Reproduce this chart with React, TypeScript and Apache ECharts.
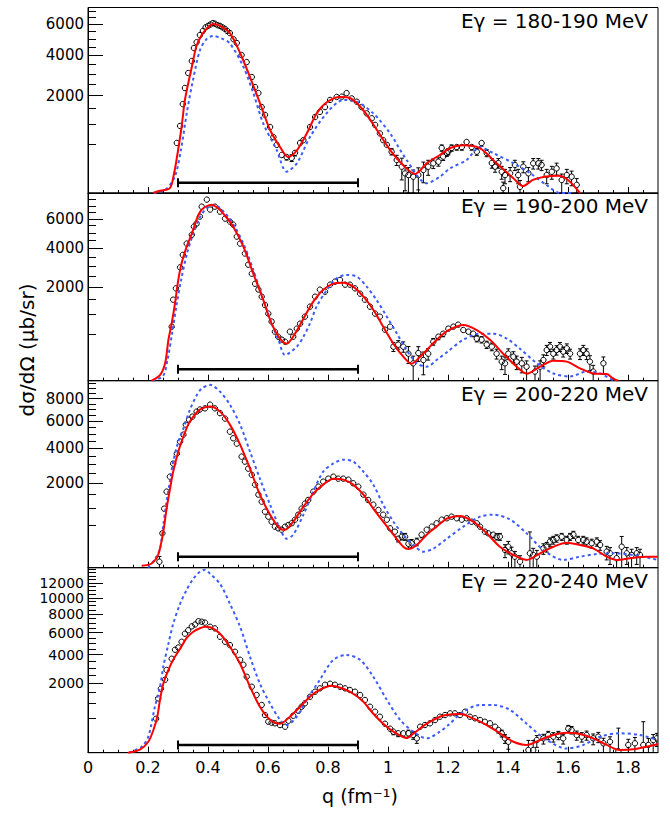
import React, { useEffect, useRef } from "react";
import * as echarts from "echarts";

type Pt = [number, number];
type DPt = [number, number, number];

const FONT = '"DejaVu Sans", "Liberation Sans", sans-serif';

const panelTitles = ["Eγ = 180-190 MeV", "Eγ = 190-200 MeV", "Eγ = 200-220 MeV", "Eγ = 220-240 MeV"];
const yMaxValues = [7270, 8060, 9780, 14260];
const yLabelValues = [
  [2000, 4000, 6000],
  [2000, 4000, 6000],
  [2000, 4000, 6000, 8000],
  [2000, 4000, 6000, 8000, 10000, 12000],
];
const yLabelFontSizes = [15, 15, 15, 14];
const yMinorStep = 500;
const xLabelValues = [0, 0.2, 0.4, 0.6, 0.8, 1, 1.2, 1.4, 1.6, 1.8];
const xMinorStep = 0.05;
const qMax = 1.9;
const barQ = [0.3, 0.9];
const barLevels = [22, 30, 34, 25];

// ---------- Panel 1 (180-190 MeV) ----------
const data1: DPt[] = [
  [0.296,530,40],[0.307,950,50],[0.316,1670,60],[0.323,2330,70],[0.334,3040,80],[0.346,3680,90],[0.353,4440,100],[0.362,4800,110],[0.373,5270,120],[0.383,5550,130],[0.392,5800,140],[0.400,5900,140],[0.408,6000,150],[0.416,6100,150],[0.424,6050,150],[0.432,5950,150],[0.440,5900,150],[0.448,5800,150],[0.456,5700,140],[0.464,5550,140],[0.473,5400,140],[0.485,5000,130],[0.496,4750,130],[0.512,4020,120],[0.529,3620,110],[0.546,2840,100],[0.557,2370,90],[0.568,2110,90],[0.579,1560,80],[0.590,1290,70],[0.607,920,60],[0.618,660,55],[0.629,490,50],[0.646,305,45],[0.662,274,45],[0.679,260,50],[0.690,340,50],[0.707,530,50],[0.718,590,55],[0.740,920,60],[0.757,1220,65],[0.773,1390,65],[0.790,1560,70],[0.807,1830,70],[0.829,1950,75],[0.846,1960,75],[0.862,2110,75],[0.879,1890,75],[0.896,1760,70],[0.912,1560,70],[0.929,1340,65],[0.946,1180,60],[0.957,980,60],[0.973,750,55],[0.984,590,50],[0.996,490,50],[1.012,360,55],[1.029,230,70],[1.046,146,110],[1.057,81,80],[1.068,68,68],[1.084,56,56],[1.101,68,66],[1.118,112,90],[1.134,146,80],[1.151,186,60],[1.168,207,55],[1.179,428,60],[1.184,279,55],[1.196,338,55],[1.201,360,55],[1.212,428,60],[1.229,447,60],[1.246,447,60],[1.262,550,65],[1.279,447,60],[1.296,360,60],[1.312,528,65],[1.329,338,60],[1.346,190,60],[1.357,146,55],[1.368,190,60],[1.379,95,55],[1.384,5,20],[1.39,68,50],[1.407,82,55],[1.423,166,60],[1.434,68,50],[1.44,8,25],[1.451,146,60],[1.468,82,55],[1.484,186,65],[1.501,186,65],[1.512,166,60],[1.529,68,50],[1.546,95,55],[1.562,128,60],[1.579,36,40],[1.596,68,50],[1.612,56,45],[1.629,14,30],
];
const red1: Pt[] = [
  [0.217,0],[0.24,1],[0.273,5],[0.285,60],[0.295,230],[0.312,920],[0.323,1827],[0.346,3355],[0.362,4600],[0.38,5300],[0.4,5800],[0.417,6035],[0.44,5900],[0.473,5405],[0.507,4140],[0.54,2842],[0.573,1711],[0.607,838],[0.64,447],[0.667,274],[0.697,390],[0.73,760],[0.763,1352],[0.797,1749],[0.84,1946],[0.873,1906],[0.917,1455],[0.963,838],[1.007,390],[1.05,166],[1.09,76],[1.13,190],[1.173,305],[1.207,428],[1.25,480],[1.307,422],[1.362,186],[1.417,48],[1.45,10],[1.483,36],[1.522,56],[1.567,63],[1.6,36],[1.64,0],
];
const blue1: Pt[] = [
  [0.22,0],[0.26,3],[0.29,60],[0.31,400],[0.33,1400],[0.35,2700],[0.373,4300],[0.395,5000],[0.418,5206],[0.445,5050],[0.473,4730],[0.518,3363],[0.551,2112],[0.584,1025],[0.629,390],[0.662,96],[0.696,186],[0.74,662],[0.796,1352],[0.851,1827],[0.896,1761],[0.951,1340],[1.007,752],[1.062,230],[1.129,20],[1.173,56],[1.207,129],[1.262,230],[1.307,447],[1.35,338],[1.417,190],[1.473,84],[1.529,13],[1.573,0],[1.62,0],
];

// ---------- Panel 2 (190-200 MeV) ----------
const data2: DPt[] = [
  [0.279,668,50],[0.284,1500,60],[0.293,1950,70],[0.307,2940,80],[0.316,3620,90],[0.329,4300,100],[0.346,4870,110],[0.353,5430,120],[0.362,5650,130],[0.373,6160,140],[0.379,6930,150],[0.396,7500,160],[0.407,6700,150],[0.423,6930,150],[0.440,6540,150],[0.457,6010,140],[0.473,5790,140],[0.484,5570,140],[0.496,4750,130],[0.507,4300,120],[0.523,3700,110],[0.534,3080,100],[0.546,2620,95],[0.557,2150,90],[0.568,1900,85],[0.579,1615,80],[0.590,1310,75],[0.601,1030,70],[0.612,800,65],[0.623,550,55],[0.634,443,55],[0.646,385,50],[0.657,348,50],[0.673,550,55],[0.684,443,55],[0.696,620,55],[0.707,744,60],[0.723,938,60],[0.740,1254,65],[0.757,1615,70],[0.773,1896,75],[0.790,1813,75],[0.807,2110,80],[0.823,2244,80],[0.840,2322,80],[0.857,2110,80],[0.873,2110,80],[0.890,1950,75],[0.907,1733,75],[0.923,1502,70],[0.940,1254,65],[0.957,1030,65],[0.973,938,60],[0.990,596,60],[1.007,668,60],[1.018,265,70],[1.034,297,70],[1.051,265,80],[1.068,167,100],[1.084,69,69],[1.101,175,90],[1.118,98,90],[1.134,167,70],[1.151,348,60],[1.168,443,60],[1.184,506,65],[1.201,620,65],[1.218,668,70],[1.234,718,70],[1.251,588,65],[1.268,550,65],[1.284,506,65],[1.296,404,60],[1.312,385,60],[1.329,297,60],[1.346,265,60],[1.362,167,60],[1.379,83,55],[1.39,69,60],[1.401,167,65],[1.418,132,60],[1.429,83,55],[1.446,69,55],[1.462,45,45],[1.49,19,30],[1.507,45,45],[1.518,98,55],[1.529,215,70],[1.54,265,70],[1.551,167,60],[1.562,215,65],[1.573,265,70],[1.584,193,65],[1.596,240,70],[1.607,167,60],[1.64,167,65],[1.651,215,70],[1.662,167,65],[1.673,83,60],[1.684,19,35],[1.718,69,60],
];
const red2: Pt[] = [
  [0.212,0],[0.24,7],[0.257,69],[0.268,379],[0.279,754],[0.29,1371],[0.301,2322],[0.312,3154],[0.329,4111],[0.346,4947],[0.362,5934],[0.373,6500],[0.39,6900],[0.412,7090],[0.434,6800],[0.451,6385],[0.484,5429],[0.518,4111],[0.551,2621],[0.584,1502],[0.612,744],[0.64,404],[0.662,313],[0.69,506],[0.718,880],[0.751,1429],[0.784,1896],[0.818,2154],[0.851,2199],[0.884,2023],[0.918,1615],[0.951,1154],[0.984,668],[1.018,313],[1.051,132],[1.079,66],[1.107,132],[1.14,265],[1.173,443],[1.204,592],[1.251,710],[1.296,588],[1.34,385],[1.384,167],[1.429,45],[1.462,11],[1.507,45],[1.551,92],[1.596,83],[1.64,35],[1.684,12],[1.729,10],[1.751,1],[1.767,0],
];
const blue2: Pt[] = [
  [0.215,0],[0.25,5],[0.265,100],[0.28,500],[0.295,1300],[0.31,2300],[0.33,3700],[0.35,4900],[0.373,6100],[0.395,6800],[0.42,7050],[0.45,6600],[0.484,5600],[0.518,4300],[0.551,2800],[0.584,1500],[0.612,750],[0.635,380],[0.657,151],[0.696,265],[0.718,443],[0.74,754],[0.762,1254],[0.796,1883],[0.829,2400],[0.862,2560],[0.896,2476],[0.929,2023],[0.962,1490],[0.996,938],[1.029,514],[1.062,216],[1.096,69],[1.129,45],[1.162,98],[1.201,200],[1.251,385],[1.307,506],[1.351,506],[1.396,404],[1.44,234],[1.496,69],[1.551,12],[1.607,4],[1.662,19],[1.707,12],[1.751,0],
];

// ---------- Panel 3 (200-220 MeV) ----------
const data3: DPt[] = [
  [0.238,10,25],[0.248,331,40],[0.254,975,50],[0.262,1617,60],[0.273,2318,70],[0.284,3028,80],[0.296,3638,90],[0.307,4445,100],[0.318,4952,110],[0.326,5725,120],[0.337,6132,130],[0.348,6383,130],[0.362,6813,140],[0.373,7000,140],[0.390,7100,150],[0.407,7437,150],[0.423,7100,150],[0.440,6680,150],[0.457,6215,140],[0.473,5178,130],[0.484,4685,120],[0.496,4305,120],[0.512,3450,110],[0.523,3146,100],[0.534,2744,95],[0.546,2410,90],[0.557,1929,85],[0.568,1492,75],[0.579,1220,70],[0.590,878,60],[0.601,728,55],[0.612,592,50],[0.623,471,50],[0.634,434,50],[0.646,404,50],[0.657,471,50],[0.668,510,50],[0.679,552,55],[0.690,645,55],[0.701,786,60],[0.712,975,60],[0.723,1147,65],[0.734,1283,65],[0.751,1617,70],[0.768,1837,70],[0.784,2071,75],[0.801,2217,75],[0.818,2318,80],[0.834,2217,75],[0.851,2217,75],[0.868,2168,75],[0.884,1994,75],[0.901,1837,70],[0.918,1492,65],[0.934,1283,65],[0.951,1111,60],[0.968,932,60],[0.984,786,55],[0.996,645,55],[1.007,434,50],[1.023,363,50],[1.034,235,50],[1.046,269,55],[1.057,269,60],[1.068,160,55],[1.079,167,55],[1.096,189,55],[1.112,305,55],[1.129,404,55],[1.146,471,55],[1.162,552,60],[1.179,645,60],[1.196,683,60],[1.212,728,65],[1.229,683,60],[1.246,645,60],[1.262,683,60],[1.279,592,60],[1.296,552,60],[1.307,471,55],[1.323,363,55],[1.334,331,55],[1.351,305,55],[1.362,269,55],[1.373,269,60],[1.39,88,60],[1.401,123,70],[1.412,58,60],[1.423,34,40],[1.44,10,30],[1.473,58,300],[1.484,45,60],[1.496,34,50],[1.518,105,55],[1.529,123,55],[1.54,189,60],[1.551,215,60],[1.562,242,60],[1.579,269,60],[1.596,215,60],[1.607,269,60],[1.618,305,65],[1.634,215,60],[1.651,215,60],[1.662,189,60],[1.679,167,60],[1.696,189,60],[1.707,145,60],[1.729,72,55],[1.74,58,55],[1.762,25,40],[1.779,123,150],[1.796,58,55],[1.812,45,50],[1.829,58,55],[1.84,45,50],
];
const red3: Pt[] = [
  [0.179,1],[0.212,5],[0.234,47],[0.251,363],[0.262,975],[0.273,1703],[0.284,2580],[0.301,3767],[0.318,4804],[0.334,5725],[0.351,6383],[0.373,6988],[0.407,7257],[0.44,6813],[0.473,5725],[0.507,4235],[0.54,2744],[0.573,1492],[0.607,786],[0.64,426],[0.657,404],[0.684,592],[0.718,1042],[0.751,1533],[0.784,1929],[0.818,2217],[0.851,2168],[0.884,1929],[0.918,1492],[0.951,975],[0.984,592],[1.018,305],[1.051,123],[1.068,98],[1.096,145],[1.129,305],[1.162,471],[1.198,680],[1.24,750],[1.284,592],[1.329,331],[1.373,123],[1.418,45],[1.462,17],[1.507,58],[1.551,123],[1.596,175],[1.64,145],[1.684,105],[1.729,34],[1.762,17],[1.807,25],[1.862,34],[1.9,34],
];
const blue3: Pt[] = [
  [0.2,0],[0.223,20],[0.24,101],[0.251,510],[0.262,1220],[0.273,2071],[0.284,3146],[0.301,4445],[0.318,5409],[0.34,7000],[0.362,8300],[0.378,8950],[0.407,9350],[0.44,8672],[0.473,7437],[0.507,5725],[0.54,3767],[0.573,2217],[0.607,1111],[0.64,426],[0.662,235],[0.684,305],[0.718,786],[0.751,1617],[0.784,2580],[0.818,3038],[0.851,3265],[0.884,3146],[0.918,2580],[0.951,1929],[0.984,1111],[1.018,592],[1.051,305],[1.084,145],[1.118,72],[1.151,101],[1.196,235],[1.251,471],[1.307,728],[1.351,786],[1.407,645],[1.462,331],[1.518,88],[1.584,17],[1.64,34],[1.696,52],[1.751,58],[1.818,45],[1.9,17],
];

// ---------- Panel 4 (220-240 MeV) ----------
const data4: DPt[] = [
  [0.227,481,40],[0.234,1230,60],[0.243,1705,70],[0.257,2218,80],[0.262,2852,90],[0.279,3678,100],[0.290,4415,110],[0.301,4610,120],[0.312,5128,130],[0.323,5900,140],[0.334,6250,150],[0.346,6650,150],[0.357,6850,160],[0.368,7200,160],[0.379,7150,160],[0.390,7050,160],[0.407,6608,150],[0.423,6440,150],[0.440,5601,140],[0.457,5128,130],[0.473,4828,130],[0.490,4246,120],[0.507,3600,110],[0.518,3223,100],[0.529,2404,90],[0.546,1813,80],[0.562,1386,75],[0.579,950,65],[0.590,591,55],[0.601,400,50],[0.612,375,50],[0.623,360,50],[0.640,319,50],[0.657,281,50],[0.668,426,55],[0.684,570,55],[0.701,734,60],[0.712,881,60],[0.723,1015,65],[0.740,1305,70],[0.757,1549,70],[0.773,1725,75],[0.790,1924,75],[0.807,1982,80],[0.823,1924,75],[0.840,1813,75],[0.857,1725,75],[0.873,1640,70],[0.890,1549,70],[0.907,1386,70],[0.923,1157,65],[0.940,881,60],[0.957,700,55],[0.973,539,55],[0.990,350,50],[1.007,240,50],[1.018,184,50],[1.034,157,50],[1.051,157,50],[1.068,157,55],[1.084,130,55],[1.096,86,50],[1.107,281,60],[1.123,319,60],[1.140,360,60],[1.157,445,60],[1.173,539,60],[1.190,591,65],[1.207,645,65],[1.223,646,65],[1.240,591,65],[1.257,700,65],[1.273,539,60],[1.290,493,60],[1.307,445,60],[1.323,400,60],[1.340,360,60],[1.357,281,55],[1.368,215,55],[1.379,157,55],[1.390,86,50],[1.401,50,45],[1.468,3,60],[1.484,3,60],[1.496,67,55],[1.518,86,55],[1.534,130,60],[1.551,107,60],[1.568,130,60],[1.584,86,55],[1.601,240,70],[1.612,215,70],[1.629,130,65],[1.646,107,60],[1.662,130,65],[1.684,86,60],[1.701,107,65],[1.718,37,50],[1.740,50,55],[1.768,1,250],[1.801,25,50],[1.823,37,60],[1.851,25,375],[1.868,25,60],[1.884,67,70],[1.896,86,70],
];
const red4: Pt[] = [
  [0.134,0],[0.173,4],[0.201,50],[0.218,215],[0.231,539],[0.24,1169],[0.251,1982],[0.268,2852],[0.284,3600],[0.307,4500],[0.329,5500],[0.351,6100],[0.373,6450],[0.39,6600],[0.407,6560],[0.44,5895],[0.473,4677],[0.507,3297],[0.54,1813],[0.573,881],[0.607,453],[0.64,350],[0.673,539],[0.707,881],[0.74,1305],[0.773,1652],[0.812,1868],[0.851,1705],[0.884,1449],[0.918,1083],[0.951,633],[0.984,350],[1.018,184],[1.051,100],[1.062,90],[1.084,150],[1.129,350],[1.173,539],[1.198,600],[1.24,623],[1.284,490],[1.329,319],[1.373,157],[1.418,50],[1.462,25],[1.507,67],[1.551,130],[1.596,166],[1.64,145],[1.684,86],[1.729,25],[1.773,3],[1.818,5],[1.862,15],[1.9,32],
];
const blue4: Pt[] = [
  [0.137,0],[0.179,15],[0.201,107],[0.223,881],[0.24,1813],[0.251,3078],[0.268,4945],[0.284,6926],[0.307,9241],[0.329,11059],[0.351,12600],[0.373,13636],[0.39,13940],[0.407,13340],[0.44,11890],[0.473,9241],[0.507,6608],[0.54,3836],[0.573,1982],[0.607,1000],[0.64,453],[0.662,319],[0.696,539],[0.729,1169],[0.773,2218],[0.818,3600],[0.862,3975],[0.907,3600],[0.951,2404],[0.996,1169],[1.04,453],[1.084,184],[1.129,86],[1.173,184],[1.201,319],[1.251,700],[1.307,950],[1.351,950],[1.407,760],[1.462,350],[1.529,67],[1.596,7],[1.651,25],[1.707,107],[1.773,157],[1.84,130],[1.9,67],
];

const panelData = [data1, data2, data3, data4];
const panelRed = [red1, red2, red3, red4];
const panelBlue = [blue1, blue2, blue3, blue4];

// ---------- layout ----------
const GRID_LEFT = 88;
const GRID_WIDTH = 570;
const gridTops = [7.5, 193, 380.7, 567.7];
const gridHeights = [185.5, 187.7, 187, 185];

const sq = (v: number) => Math.sqrt(Math.max(0, v));

const renderErr = (_params: any, api: any) => {
  const q = api.value(0);
  const c = api.coord([q, api.value(1)]);
  const lo = api.coord([q, api.value(2)]);
  const hi = api.coord([q, api.value(3)]);
  const r = 2.7;
  const st = { stroke: "#000", lineWidth: 1, fill: "none" };
  const ch: any[] = [];
  if (lo[1] - c[1] > r + 0.3) {
    ch.push({ type: "line", shape: { x1: c[0], y1: c[1] + r, x2: c[0], y2: lo[1] }, style: st });
    ch.push({ type: "line", shape: { x1: c[0] - 2, y1: lo[1], x2: c[0] + 2, y2: lo[1] }, style: st });
  }
  if (c[1] - hi[1] > r + 0.3) {
    ch.push({ type: "line", shape: { x1: c[0], y1: c[1] - r, x2: c[0], y2: hi[1] }, style: st });
    ch.push({ type: "line", shape: { x1: c[0] - 2, y1: hi[1], x2: c[0] + 2, y2: hi[1] }, style: st });
  }
  ch.push({ type: "circle", shape: { cx: c[0], cy: c[1], r }, style: st });
  return { type: "group", children: ch };
};

const yLabelStyle = (fontSize: number) => ({
  margin: 4, lineHeight: 12,
  showMinLabel: true, showMaxLabel: true, hideOverlap: false,
  formatter: (v: number) => String(Math.round(v * v)),
  fontFamily: FONT, fontSize, color: "#000",
});

function buildOption() {
  const grid: any[] = [];
  const xAxis: any[] = [];
  const yAxis: any[] = [];
  const series: any[] = [];
  const graphic: any[] = [];

  const xMinor: number[] = [];
  for (let k = 1; k * xMinorStep < qMax - 1e-9; k++) xMinor.push(+(k * xMinorStep).toFixed(2));

  for (let i = 0; i < 4; i++) {
    grid.push({
      left: GRID_LEFT, width: GRID_WIDTH, top: gridTops[i], height: gridHeights[i],
      show: true, borderColor: "#000", borderWidth: 1, backgroundColor: "transparent",
      containLabel: false, outerBoundsMode: "none",
    });
  }
  for (let i = 0; i < 4; i++) {
    grid.push({
      left: GRID_LEFT, width: GRID_WIDTH, top: gridTops[i], height: gridHeights[i],
      show: false, containLabel: false, outerBoundsMode: "none",
    });
  }

  for (let i = 0; i < 4; i++) {
    xAxis.push({
      type: "value", gridIndex: i, min: 0, max: qMax,
      axisLine: { show: true, onZero: false, lineStyle: { color: "#000", width: 1 } },
      axisTick: { show: true, inside: true, length: 6, customValues: xLabelValues, lineStyle: { color: "#000", width: 1 } },
      axisLabel: {
        show: i === 3, customValues: xLabelValues, margin: 7,
        showMinLabel: true, showMaxLabel: true, hideOverlap: false,
        formatter: (v: number) => String(Number(v.toFixed(1))),
        fontFamily: FONT, fontSize: 16, color: "#000",
      },
      splitLine: { show: false },
    });
    const ymax = sq(yMaxValues[i]);
    const labVals = yLabelValues[i].map(sq);
    // labels split between the two overlapping axes so none gets hidden
    const evenLabels = labVals.filter((_, k) => k % 2 === 0);
    yAxis.push({
      type: "value", gridIndex: i, min: 0, max: ymax, position: "left",
      axisLine: { show: true, onZero: false, lineStyle: { color: "#000", width: 1 } },
      axisTick: { show: true, inside: true, length: 15, customValues: labVals, lineStyle: { color: "#000", width: 1 } },
      axisLabel: { show: true, customValues: evenLabels, ...yLabelStyle(yLabelFontSizes[i]) },
      splitLine: { show: false },
    });
  }
  for (let i = 0; i < 4; i++) {
    xAxis.push({
      type: "value", gridIndex: 4 + i, min: 0, max: qMax,
      axisLine: { show: false },
      axisTick: { show: true, inside: true, length: 3, customValues: xMinor, lineStyle: { color: "#000", width: 1 } },
      axisLabel: { show: false },
      splitLine: { show: false },
    });
    const minors: number[] = [];
    for (let v = yMinorStep; v < yMaxValues[i]; v += yMinorStep) {
      if (!yLabelValues[i].includes(v)) minors.push(sq(v));
    }
    const oddLabels = yLabelValues[i].map(sq).filter((_, k) => k % 2 === 1);
    yAxis.push({
      type: "value", gridIndex: 4 + i, min: 0, max: sq(yMaxValues[i]), position: "left",
      axisLine: { show: false },
      axisTick: { show: true, inside: true, length: 8, customValues: minors, lineStyle: { color: "#000", width: 1 } },
      axisLabel: { show: true, customValues: oddLabels, ...yLabelStyle(yLabelFontSizes[i]) },
      splitLine: { show: false },
    });
  }

  for (let i = 0; i < 4; i++) {
    series.push({
      type: "custom", xAxisIndex: i, yAxisIndex: i, z: 2, clip: true, silent: true,
      data: panelData[i].map(([q, v, e]) => [q, sq(v), sq(v - e), sq(v + e)]),
      encode: { x: 0, y: 1 },
      renderItem: renderErr,
    });
    series.push({
      type: "line", xAxisIndex: i, yAxisIndex: i, z: 3, silent: true,
      data: panelBlue[i].map(([q, v]) => [q, sq(v)]),
      showSymbol: false, symbol: "none", smooth: 0.3,
      lineStyle: { color: "#3b5cff", width: 2, type: [3, 3] },
    });
    series.push({
      type: "line", xAxisIndex: i, yAxisIndex: i, z: 4, silent: true,
      data: panelRed[i].map(([q, v]) => [q, sq(v)]),
      showSymbol: false, symbol: "none", smooth: 0.3,
      lineStyle: { color: "#ff0000", width: 2 },
    });
    series.push({
      type: "line", xAxisIndex: i, yAxisIndex: i, z: 5, silent: true,
      data: barQ.map((q) => [q, sq(barLevels[i])]),
      showSymbol: true, symbol: "rect", symbolSize: [2, 9],
      itemStyle: { color: "#000" },
      lineStyle: { color: "#000", width: 2.5 },
    });
    graphic.push({
      type: "text", x: 648, y: gridTops[i] + 13, silent: true,
      style: {
        text: panelTitles[i], align: "right", verticalAlign: "middle",
        fontFamily: FONT, fontSize: 20, fill: "#000",
      },
    });
  }

  graphic.push({
    type: "text", x: 27, y: 350, rotation: Math.PI / 2, silent: true,
    style: {
      text: "dσ/dΩ (μb/sr)", align: "center", verticalAlign: "middle",
      fontFamily: FONT, fontSize: 20, fill: "#000",
    },
  });
  graphic.push({
    type: "text", x: 360, y: 796, silent: true,
    style: {
      text: "q (fm⁻¹)", align: "center", verticalAlign: "middle",
      fontFamily: FONT, fontSize: 19, fill: "#000",
    },
  });

  return {
    animation: false,
    backgroundColor: "#fff",
    grid, xAxis, yAxis, series, graphic,
  };
}

export default function App() {
  const ref = useRef<HTMLDivElement>(null);
  useEffect(() => {
    document.body.style.margin = "0";
    if (!ref.current) return;
    const chart = echarts.init(ref.current, undefined, { renderer: "svg" });
    chart.setOption(buildOption() as any);
    return () => chart.dispose();
  }, []);
  return <div ref={ref} style={{ width: 670, height: 813 }} />;
}
